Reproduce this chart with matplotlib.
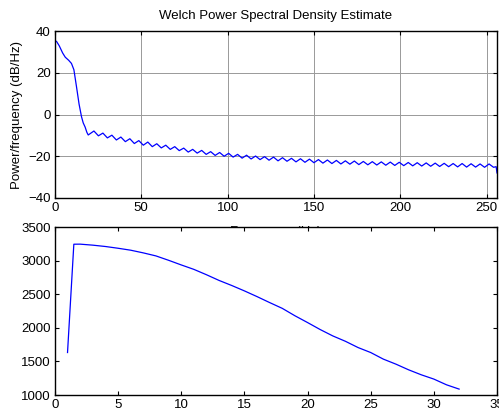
import numpy as np
import matplotlib
matplotlib.use("Agg")
import matplotlib.pyplot as plt

plt.rcParams['font.family'] = ['Liberation Sans', 'DejaVu Sans']
plt.rcParams['font.size'] = 9.5

# --- top plot: Welch PSD (dB/Hz) ---
freq_head = [0, 1, 2.5, 4.5, 6, 8, 9.6, 11, 12.5, 14, 15.4, 16.4, 17.5, 18.5, 19.3]
psd_head = [35.5, 35, 33, 29.5, 27.5, 26, 24.5, 21.5, 13.4, 5, -1, -4, -6, -8.5, -9.8]

# ripple part: alternating peaks / troughs
psd_ripple = [
    -7.9, -10.2, -8.9, -11.2, -9.9, -12.2, -10.8, -13.0, -11.6, -13.9,
    -12.5, -14.7, -13.2, -15.4, -14.0, -16.0, -14.7, -16.7, -15.4, -17.3,
    -16.1, -18.0, -16.7, -18.5, -17.2, -19.1, -17.8, -19.6, -18.2, -20.0,
    -18.6, -20.4, -19.1, -20.9, -19.5, -21.3, -19.9, -21.6, -20.2, -21.9,
    -20.4, -22.2, -20.7, -22.4, -21.0, -22.7, -21.2, -22.9, -21.4, -23.1,
    -21.6, -23.3, -21.8, -23.5, -22.0, -23.7, -22.2, -23.8, -22.3, -24.0,
    -22.5, -24.1, -22.6, -24.2, -22.7, -24.3, -22.8, -24.4, -22.9, -24.5,
    -23.0, -24.6, -23.1, -24.7, -23.2, -24.8, -23.3, -24.9, -23.4, -25.0,
    -23.5, -25.1, -23.5, -25.2, -23.6, -25.2, -23.7, -25.3, -23.7, -25.3,
]
freq_ripple = np.linspace(22.6, 254.0, len(psd_ripple))

freq_tail = [255.5, 256]
psd_tail = [-25.0, -28.0]

freq = np.concatenate([freq_head, freq_ripple, freq_tail])
psd = np.concatenate([psd_head, psd_ripple, psd_tail])

# --- bottom plot ---
x2 = [1, 1.5, 2, 3, 4, 5, 6, 7, 8, 9, 10, 11, 12, 13, 14, 15, 16, 17,
      18, 19, 20, 21, 22, 23, 24, 25, 26, 27, 28, 29, 30, 31, 32]
y2 = [1633, 3244, 3245, 3230, 3210, 3184, 3155, 3115, 3070, 3005, 2936,
      2870, 2790, 2705, 2630, 2550, 2465, 2376, 2290, 2180, 2079, 1975,
      1880, 1800, 1707, 1633, 1535, 1460, 1376, 1302, 1238, 1153, 1089]

fig = plt.figure(figsize=(4.99, 4.15), dpi=100)
ax1 = fig.add_axes([0.110, 0.523, 0.886, 0.402])
ax2 = fig.add_axes([0.110, 0.048, 0.886, 0.405])

ax1.plot(freq, psd, color='#0000ff', linewidth=0.9)
ax1.set_xlim(0, 256)
ax1.set_ylim(-40, 40)
ax1.set_xticks([0, 50, 100, 150, 200, 250])
ax1.set_yticks([-40, -20, 0, 20, 40])
ax1.grid(True, color='#999999', linestyle='-', linewidth=0.7)
ax1.set_title('Welch Power Spectral Density Estimate', fontsize=9.5, pad=9)
ax1.set_ylabel('Power/frequency (dB/Hz)', labelpad=4)
# the x label sits mostly hidden behind the lower axes, as in the original
ax1.set_xlabel('Frequency (Hz)', labelpad=8.5)

ax2.plot(x2, y2, color='#0000ff', linewidth=0.9)
ax2.set_xlim(0, 35)
ax2.set_ylim(1000, 3500)
ax2.set_xticks([0, 5, 10, 15, 20, 25, 30, 35])
ax2.set_yticks([1000, 1500, 2000, 2500, 3000, 3500])

for ax in (ax1, ax2):
    ax.tick_params(direction='in', top=True, right=True, length=3,
                   width=0.8, labelsize=9.5, pad=3)
    for s in ax.spines.values():
        s.set_linewidth(1.0)

fig.savefig('out.png', dpi=100)
